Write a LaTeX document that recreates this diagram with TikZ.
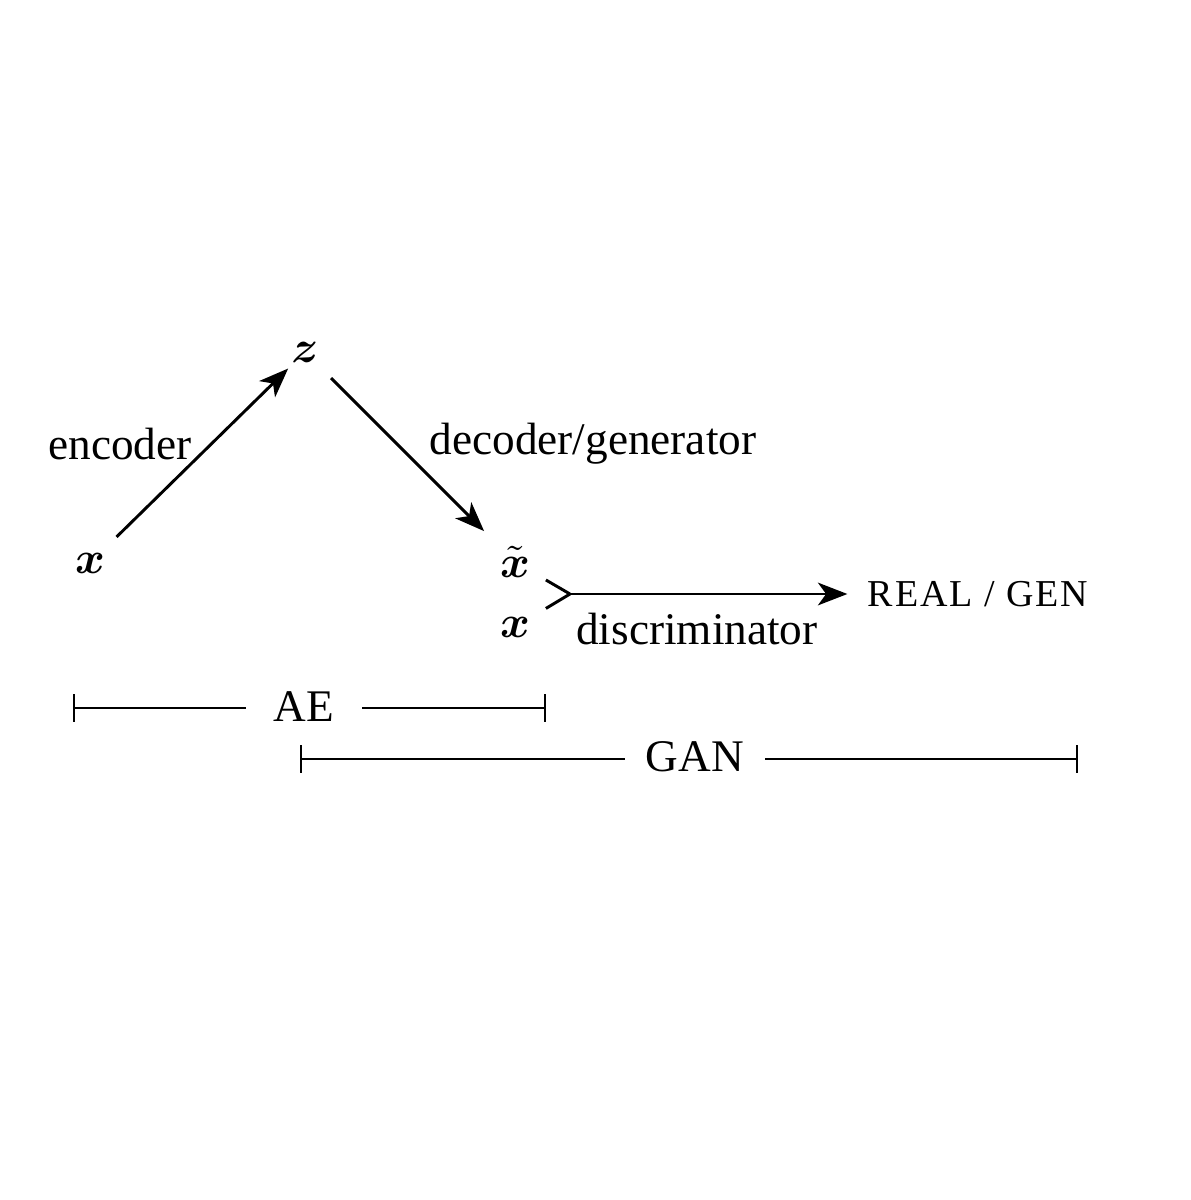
\documentclass[tikz,border=0pt]{standalone}
\usepackage{amsmath,amssymb}
\usepackage{fontspec}
\setmainfont{Liberation Serif}
\usetikzlibrary{arrows.meta}
\tikzset{
  flow/.style={line width=0.65pt, -{Stealth[length=6.5pt,width=5pt,inset=1.8pt]}},
  fork/.style={line width=0.65pt},
  span/.style={line width=0.4pt},
  spanlbl/.style={inner sep=6pt},
  lbl/.style={inner sep=0pt}
}
\begin{document}
\begin{tikzpicture}[x=0.221pt,y=0.221pt,yscale=-1,xscale=1]
\useasboundingbox (0,0) rectangle (1190,1200);

% Variables
\node (x) at (90,563) {$\boldsymbol{x}$};
\node (z) at (305,352) {$\boldsymbol{z}$};
\node (xt) at (515,562) {$\tilde{\boldsymbol{x}}$};
\node (xr) at (515,627) {$\boldsymbol{x}$};
\node (out) at (978,594) {\fontsize{8.4}{10}\selectfont\addfontfeatures{LetterSpace=5}REAL / GEN};
\coordinate (join) at (570,594);

% Straight Lines
\draw [flow, shorten >=-3pt] (x) -- (z);
\draw [flow] (z) -- (xt);
\draw [fork] (xt) -- (join);
\draw [fork] (xr) -- (join);
\draw [flow, shorten >=1pt] (join) -- (out);

% Text Node
\node [lbl] (enc) at (120,444) {encoder};
\node [lbl] (dec) at (593,444) {decoder/generator};
\node [lbl] (dis) at (697,629) {discriminator};

% Brackets
\node [spanlbl] (ae) at (304,707) {AE};
\coordinate (aeL) at (73,708);
\coordinate (aeR) at (546,708);
\draw [span, {|[width=6pt]}-] (aeL) -- (aeL -| ae.west) ;
\draw [span, -{|[width=6pt]}] (aeR -| ae.east) -- (aeR);

\node [spanlbl, inner sep=4.5pt] (gan) at (695,757) {GAN};
\coordinate (ganL) at (300,759);
\coordinate (ganR) at (1078,759);
\draw [span, {|[width=6pt]}-] (ganL) -- (ganL -| gan.west) ;
\draw [span, -{|[width=6pt]}] (ganR -| gan.east) -- (ganR);

\end{tikzpicture}
\end{document}
